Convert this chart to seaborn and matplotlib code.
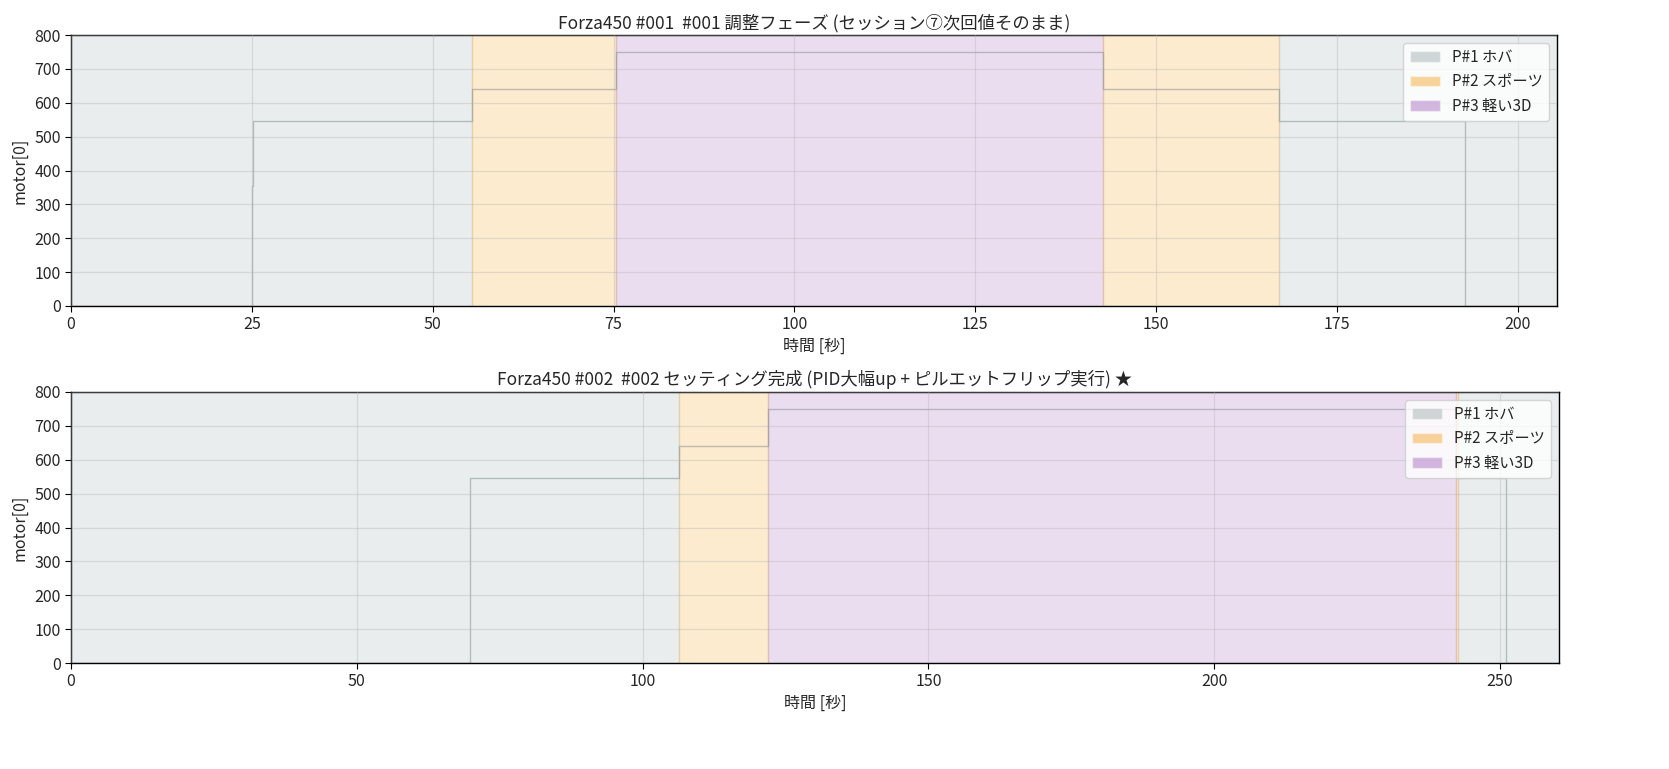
import matplotlib
matplotlib.use("Agg")
import matplotlib.pyplot as plt
import seaborn as sns
import pandas as pd
from matplotlib.patches import Patch

# ---- data ----
titles = ["Forza450 #001  #001 調整フェーズ (セッション⑦次回値そのまま)",
          "Forza450 #002  #002 セッティング完成 (PID大幅up + ピルエットフリップ実行) ★"]

s1_time = [0, 25.0, 25.2, 55.4, 75.3, 142.6, 167.0, 192.7, 205.4]
s1_motor = [0, 355, 545, 640, 750, 640, 545, 0, 0]
s1_phase_start = [0, 55.4, 75.3, 142.6, 167.0]
s1_phase_end = [55.4, 75.3, 142.6, 167.0, 205.4]
s1_phase_id = [1, 2, 3, 2, 1]

s2_time = [0, 69.8, 106.4, 121.9, 242.3, 251.0, 260.3]
s2_motor = [0, 545, 640, 750, 545, 0, 0]
s2_phase_start = [0, 106.4, 121.9, 242.3, 242.6]
s2_phase_end = [106.4, 121.9, 242.3, 242.6, 260.3]
s2_phase_id = [1, 2, 3, 2, 1]

phase_labels = {1: "P#1 ホバ", 2: "P#2 スポーツ", 3: "P#3 軽い3D"}
phase_colors = {1: "#95a5a6", 2: "#f39c12", 3: "#9b59b6"}
xticks_list = [[0, 25, 50, 75, 100, 125, 150, 175, 200], [0, 50, 100, 150, 200, 250]]

sns.set_theme(style="ticks")
plt.rcParams['font.family'] = ['Noto Sans CJK JP', 'DejaVu Sans']

fig = plt.figure(figsize=(16.69, 7.69), dpi=100)
positions = [[71/1669, 1-306/769, (1557-71)/1669, (306-35)/769],
             [71/1669, 1-663/769, (1559-71)/1669, (663-392)/769]]

sessions = [
    (s1_time, s1_motor, s1_phase_start, s1_phase_end, s1_phase_id),
    (s2_time, s2_motor, s2_phase_start, s2_phase_end, s2_phase_id),
]

for i, (t, m, ps, pe, pid) in enumerate(sessions):
    ax = fig.add_axes(positions[i])
    for a, b, p in zip(ps, pe, pid):
        ax.axvspan(a, b, color=phase_colors[p], alpha=0.2, zorder=0)
    df = pd.DataFrame({"t": t, "motor": m})
    sns.lineplot(data=df, x="t", y="motor", ax=ax, drawstyle="steps-post",
                 color="#7f8c8d", alpha=0.5, linewidth=1.0, zorder=2)
    ax.set_xlim(0, t[-1])
    ax.set_ylim(0, 800)
    ax.set_xticks(xticks_list[i])
    ax.set_yticks(range(0, 801, 100))
    ax.grid(True, color="#b0b0b0", alpha=0.35, linewidth=0.9)
    ax.set_axisbelow(False)
    for sp in ax.spines.values():
        sp.set_color("black")
        sp.set_linewidth(1.0)
    ax.tick_params(axis="both", labelsize=11.5, length=4, width=0.8, color="black")
    ax.set_xlabel("時間 [秒]", fontsize=11.5, labelpad=3)
    ax.set_ylabel("motor[0]", fontsize=11.5)
    ax.set_title(titles[i], fontsize=12.5, pad=5)
    handles = [Patch(facecolor=phase_colors[k], alpha=0.42, label=phase_labels[k]) for k in (1, 2, 3)]
    ax.legend(handles=handles, loc="upper right", fontsize=11, framealpha=0.8)

fig.savefig("out.png", dpi=100)
